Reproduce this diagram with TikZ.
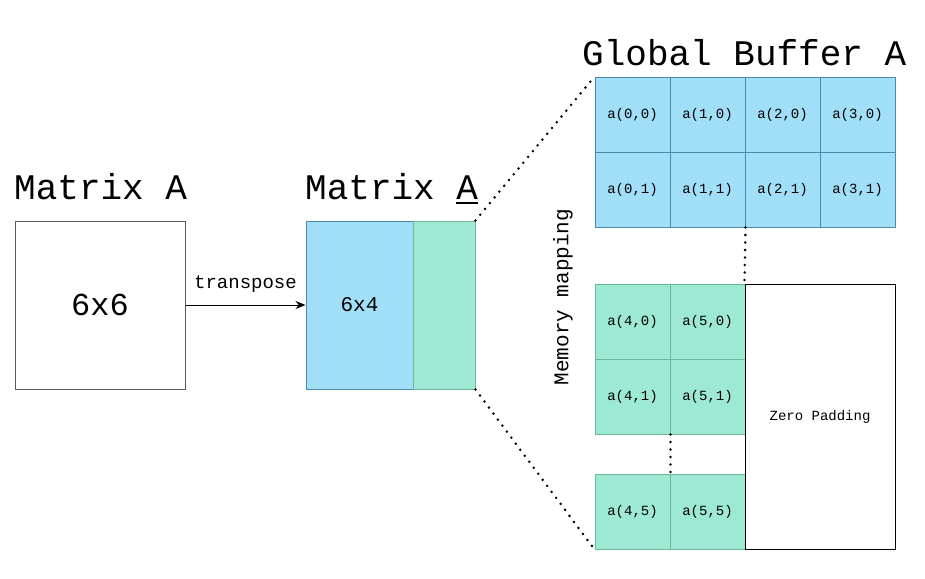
\documentclass[tikz,border=0pt]{standalone}
\usepackage{fontspec}
\setmainfont{Liberation Mono}
\usetikzlibrary{arrows.meta,positioning}
\definecolor{cellblue}{RGB}{161,222,248}
\definecolor{cellbluedraw}{RGB}{74,138,168}
\definecolor{cellgreen}{RGB}{158,233,211}
\definecolor{cellgreendraw}{RGB}{108,182,154}
\definecolor{boxgrey}{RGB}{90,90,90}

\begin{document}
\begin{tikzpicture}[x=1pt, y=-1pt,
    title/.style={font=\fontsize{36}{36}\selectfont, inner sep=0pt, anchor=base west},
    block/.style={rectangle, draw, line width=1pt, inner sep=0pt, minimum height=168pt},
    cell/.style={rectangle, draw=cellbluedraw, fill=cellblue, line width=1pt, inner sep=0pt,
                 minimum width=75pt, minimum height=75pt, font=\fontsize{14}{14}\selectfont},
    gcell/.style={cell, draw=cellgreendraw, fill=cellgreen},
    dots/.style={line width=2.8pt, line cap=round, dash pattern=on 0pt off 7.5pt}
]
    \useasboundingbox (0,0) rectangle (925,578);

    % original matrix
    \node[title] (titleA) at (14,199) {Matrix A};
    \node[block, draw=boxgrey, minimum width=170pt, font=\fontsize{32}{32}\selectfont]
        (matA) at (100,305) {6x6};

    % transposed matrix
    \node[title] (titleAt) at (305,199)
        {Matrix \makebox[0pt][l]{\rule[-5pt]{0.6em}{2.5pt}}A};
    \node[block, draw=cellbluedraw, fill=cellblue, minimum width=107pt,
          font=\fontsize{21}{21}\selectfont] (matTb) at (359.5,305) {6x4};
    \node[block, draw=cellgreendraw, fill=cellgreen, minimum width=62pt] (matTg) at (444,305) {};

    \draw[-{Stealth[length=10pt,width=8pt]}, line width=1pt] (matA) --
        node[above=12pt, inner sep=0pt, font=\fontsize{19}{19}\selectfont] {transpose} (matTb);

    % global buffer
    \node[title] (titleBuf) at (582,65) {Global Buffer A};
    \node[cell] (a00) at (632.5,114.5) {a(0,0)};
    \node[cell] (a10) at (707.5,114.5) {a(1,0)};
    \node[cell] (a20) at (782.5,114.5) {a(2,0)};
    \node[cell] (a30) at (857.5,114.5) {a(3,0)};
    \node[cell] (a01) at (632.5,189.5) {a(0,1)};
    \node[cell] (a11) at (707.5,189.5) {a(1,1)};
    \node[cell] (a21) at (782.5,189.5) {a(2,1)};
    \node[cell] (a31) at (857.5,189.5) {a(3,1)};

    \node[gcell] (a40) at (632.5,321.5) {a(4,0)};
    \node[gcell] (a50) at (707.5,321.5) {a(5,0)};
    \node[gcell] (a41) at (632.5,396.5) {a(4,1)};
    \node[gcell] (a51) at (707.5,396.5) {a(5,1)};
    \node[gcell] (a45) at (632.5,511.5) {a(4,5)};
    \node[gcell] (a55) at (707.5,511.5) {a(5,5)};

    \node[rectangle, draw, line width=1pt, inner sep=0pt, minimum width=150pt, minimum height=265pt,
          font=\fontsize{14}{14}\selectfont] (zeroPad) at (820,416.5) {Zero Padding};

    \node[rotate=90, font=\fontsize{21}{21}\selectfont] (memMap) at (563,297) {Memory mapping};

    % dotted links
    \draw[dots] (matTg.north east) -- (a00.north west);
    \draw[dots] (matTg.south east) -- (a45.south west);
    \draw[dots] (a11.south east) -- (zeroPad.north west);
    \draw[dots] (a41.south east) -- (a45.north east);
\end{tikzpicture}
\end{document}
